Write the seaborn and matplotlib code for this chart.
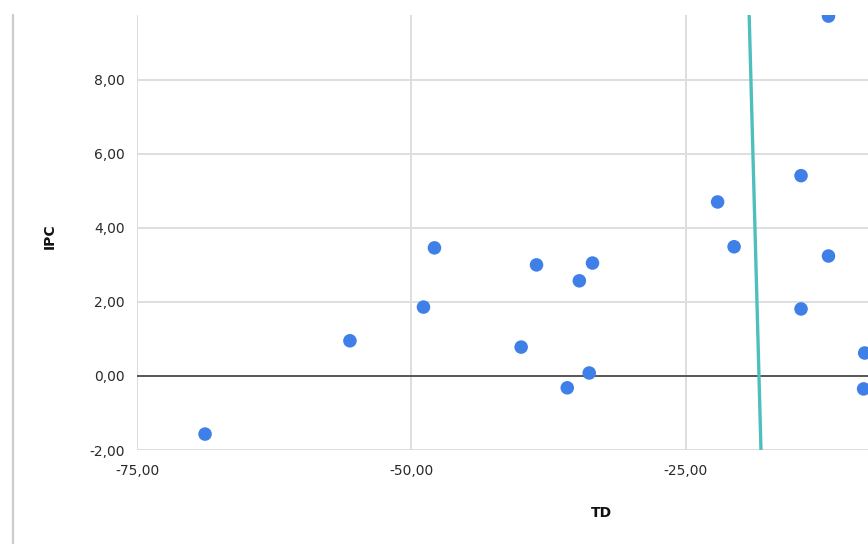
import numpy as np
import pandas as pd
import seaborn as sns
import matplotlib.pyplot as plt
from matplotlib.lines import Line2D
from matplotlib.ticker import FuncFormatter

# TD / IPC values
td = [-68.8, -55.6, -48.9, -47.9, -40.0, -38.6, -35.8, -34.7, -33.8,
      -33.5, -22.1, -20.6, -14.5, -14.5, -12.0, -12.0, -8.7, -8.8]
ipc = [-1.57, 0.95, 1.86, 3.46, 0.78, 3.00, -0.32, 2.57, 0.08,
       3.05, 4.70, 3.49, 5.41, 1.81, 3.24, 9.72, 0.62, -0.35]

# teal line
line_x = [-18.15, -19.25]
line_y = [-2.0, 10.0]

x_ticks = [-75, -50, -25]
y_ticks = [-2, 0, 2, 4, 6, 8]

df = pd.DataFrame({"TD": td, "IPC": ipc})

sns.set_style("white")
plt.rcParams["font.family"] = ["DejaVu Sans"]

fig = plt.figure(figsize=(8.68, 5.44), dpi=100)
ax = fig.add_axes([137 / 868, 94 / 544, 1 - 137 / 868, 435 / 544])

sns.scatterplot(data=df, x="TD", y="IPC", ax=ax, color="#3f7fe8",
                s=95, edgecolor="none", zorder=4)
for c in ax.collections:
    c.set_clip_on(True)
    c.set_clip_box(ax.bbox)
ax.plot(line_x, line_y, color="#4fbfbd", lw=2.4, zorder=3)
ax.axhline(0, color="#333333", lw=1.1, zorder=2)

ax.set_xlim(-75, -8.4)
ax.set_ylim(-2, 9.75)
ax.set_xticks(x_ticks)
ax.set_yticks(y_ticks)
fmt = FuncFormatter(lambda v, p: f"{v:.2f}".replace(".", ","))
ax.xaxis.set_major_formatter(fmt)
ax.yaxis.set_major_formatter(fmt)
ax.grid(True, color="#dedede", lw=1.4)
ax.set_axisbelow(True)
for s in ax.spines.values():
    s.set_visible(False)
ax.tick_params(length=0, labelsize=10, labelcolor="#2a2a2a")
ax.tick_params(axis="x", pad=10)
ax.tick_params(axis="y", pad=9)

ax.set_xlabel("TD", fontsize=10, fontweight="bold", color="#111111")
ax.set_ylabel("IPC", fontsize=10, fontweight="bold", color="#111111")
ax.xaxis.set_label_coords((601 - 137) / 731, -(506 - 450) / 435)
ax.yaxis.set_label_coords(-(137 - 57) / 731, (450 - 236) / 435)

# window border at the left
fig.add_artist(Line2D([13 / 868, 13 / 868], [0, 529 / 544],
                      color="#cccccc", lw=1.6))

fig.savefig("out.png", dpi=100)
